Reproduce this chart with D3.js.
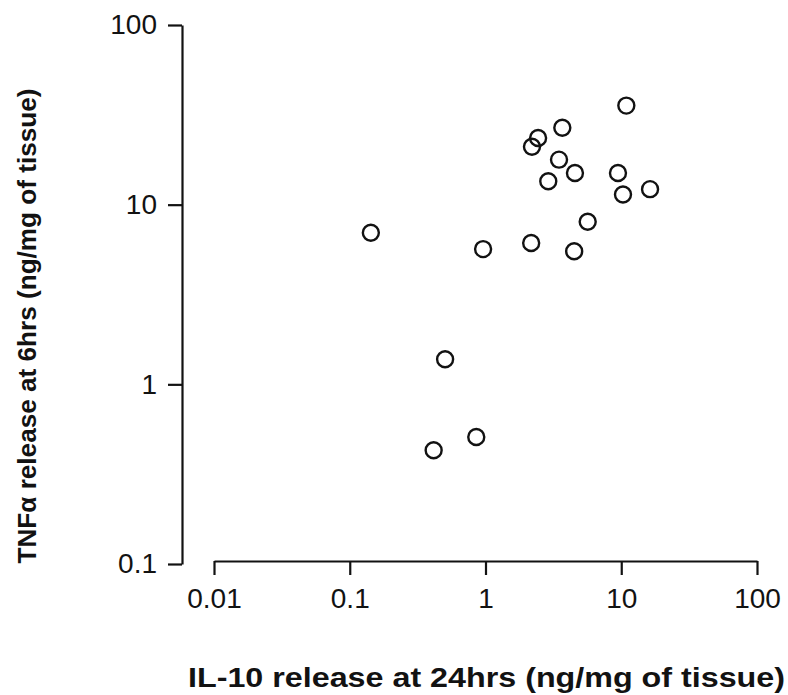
<!DOCTYPE html>
<html>
<head>
<meta charset="utf-8">
<script src="https://cdn.jsdelivr.net/npm/d3@7"></script>
<style>
  body { margin: 0; background: #fff; }
  svg { display: block; font-family: "Liberation Sans", Arial, Helvetica, sans-serif; }
</style>
</head>
<body>
<svg id="chart" width="788" height="695"></svg>
<script>
// IL-10 release at 24 hrs (x) vs TNFα release at 6 hrs (y), ng/mg of tissue
const il10 = [0.143, 0.96, 2.17, 4.5, 5.66, 2.2, 2.44, 3.68, 3.48, 2.9, 4.56, 9.46, 10.3, 10.9, 16.3, 0.504, 0.855, 0.415];
const tnfa = [6.98, 5.66, 6.12, 5.5, 8.04, 21.0, 23.5, 26.8, 17.8, 13.5, 15.0, 15.0, 11.4, 35.6, 12.2, 1.38, 0.509, 0.43];
const xTicks = [0.01, 0.1, 1, 10, 100];
const yTicks = [0.1, 1, 10, 100];
const xTickLabels = ["0.01", "0.1", "1", "10", "100"];
const yTickLabels = ["0.1", "1", "10", "100"];
const xTitle = "IL-10 release at 24hrs (ng/mg of tissue)";
const yTitle = "TNFα release at 6hrs (ng/mg of tissue)";

const svg = d3.select("#chart");
const ink = "#121212";

const x = d3.scaleLog().domain([0.01, 100]).range([214, 757]);
const y = d3.scaleLog().domain([0.1, 100]).range([564, 25]);

const yAxisX = 182;
const xAxisY = 561;

const xAxis = d3.axisBottom(x)
  .tickValues(xTicks)
  .tickFormat((d, i) => xTickLabels[i])
  .tickSize(14).tickSizeOuter(0).tickPadding(13);
const yAxis = d3.axisLeft(y)
  .tickValues(yTicks)
  .tickFormat((d, i) => yTickLabels[i])
  .tickSize(14).tickSizeOuter(0).tickPadding(11);

const gx = svg.append("g").attr("transform", `translate(0,${xAxisY})`).call(xAxis);
const gy = svg.append("g").attr("transform", `translate(${yAxisX},0)`).call(yAxis);

[gx, gy].forEach(g => {
  g.selectAll("path.domain").attr("stroke", ink).attr("stroke-width", 2.2);
  g.selectAll(".tick line").attr("stroke", ink).attr("stroke-width", 2.2);
  g.selectAll(".tick text").attr("fill", ink).style("font-size", "28px")
    .style("font-family", '"Liberation Sans", Arial, sans-serif');
});

// points
svg.append("g").selectAll("circle")
  .data(il10.map((v, i) => [v, tnfa[i]]))
  .join("circle")
  .attr("cx", d => x(d[0]))
  .attr("cy", d => y(d[1]))
  .attr("r", 8)
  .attr("fill", "none")
  .attr("stroke", ink)
  .attr("stroke-width", 2.4);

// axis titles
svg.append("text")
  .attr("x", 486.5).attr("y", 687)
  .attr("text-anchor", "middle")
  .attr("textLength", 597).attr("lengthAdjust", "spacingAndGlyphs")
  .style("font-size", "28px").style("font-weight", "bold")
  .attr("fill", ink)
  .text(xTitle);

svg.append("text")
  .attr("transform", "translate(36,326) rotate(-90)")
  .attr("text-anchor", "middle")
  .attr("textLength", 475).attr("lengthAdjust", "spacingAndGlyphs")
  .style("font-size", "26px").style("font-weight", "bold")
  .attr("fill", ink)
  .text(yTitle);
</script>
</body>
</html>
